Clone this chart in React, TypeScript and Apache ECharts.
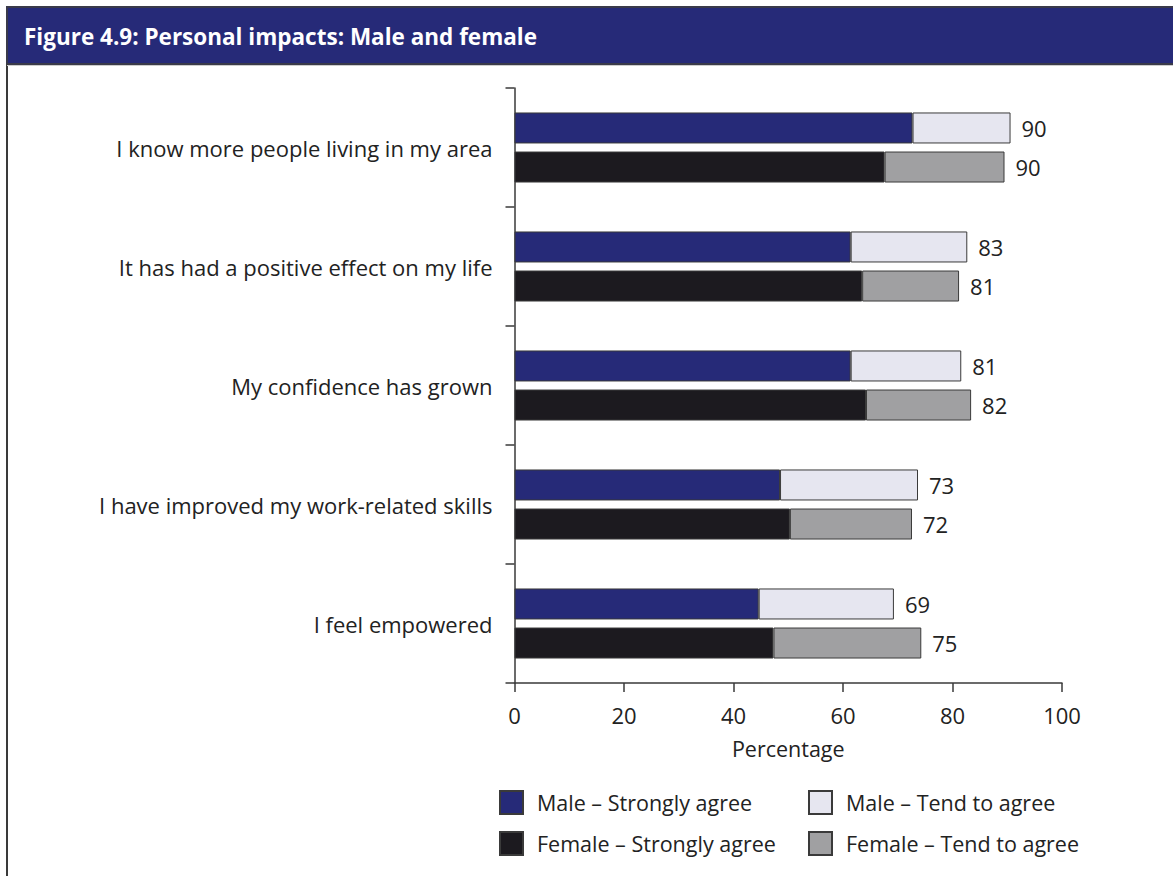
import React, { useEffect, useRef } from "react";
import * as echarts from "echarts";

const categories = [
  "I know more people living in my area",
  "It has had a positive effect on my life",
  "My confidence has grown",
  "I have improved my work-related skills",
  "I feel empowered",
];
const maleStrongly = [72.7, 61.4, 61.4, 48.5, 44.6];
const maleTend = [17.9, 21.3, 20.2, 25.2, 24.7];
const femaleStrongly = [67.6, 63.5, 64.2, 50.3, 47.3];
const femaleTend = [21.9, 17.7, 19.2, 22.3, 27.0];
const maleTotals = [90, 83, 81, 73, 69];
const femaleTotals = [90, 81, 82, 72, 75];
const xTicks = [0, 20, 40, 60, 80, 100];

const seriesNames = [
  "Male – Strongly agree",
  "Male – Tend to agree",
  "Female – Strongly agree",
  "Female – Tend to agree",
];

const FONT = "'Open Sans', 'Noto Sans', sans-serif";
const TEXT = "#222222";

export default function App() {
  const ref = useRef<HTMLDivElement>(null);
  useEffect(() => {
    if (!ref.current) return;
    const chart = echarts.init(ref.current, undefined, { renderer: "svg" });
    const border = { borderColor: "#3a3a3a", borderWidth: 1 };
    const mk = (
      name: string,
      data: number[],
      stack: string,
      color: string,
      totals?: number[]
    ) => ({
      name,
      type: "bar",
      stack,
      data,
      barWidth: 31,
      barGap: "26%",
      itemStyle: { color, ...border },
      label: totals
        ? {
            show: true,
            position: "right",
            distance: 11,
            formatter: (p: any) => String(totals[p.dataIndex]),
            color: TEXT,
            fontSize: 22,
            fontFamily: FONT,
          }
        : { show: false },
    });
    const legendBase = {
      top: 790,
      orient: "vertical",
      itemWidth: 23,
      itemHeight: 23,
      itemGap: 16,
      icon: "rect",
      textStyle: { color: TEXT, fontSize: 21.5, fontFamily: FONT, padding: [0, 0, 0, 9] },
      selectedMode: false,
      padding: 0,
    };
    chart.setOption({
      animation: false,
      backgroundColor: "#ffffff",
      textStyle: { fontFamily: FONT },
      graphic: [
        {
          type: "rect",
          shape: { x: 7, y: 7, width: 1180, height: 57 },
          style: { fill: "#262a78", stroke: "#3a3a4a", lineWidth: 2 },
          z: 10,
        },
        {
          type: "line",
          shape: { x1: 7, y1: 64, x2: 7, y2: 880 },
          style: { stroke: "#3a3a3a", lineWidth: 2 },
          z: 10,
        },
        {
          type: "line",
          shape: { x1: 7, y1: 65.5, x2: 1173, y2: 65.5 },
          style: { stroke: "#cccccc", lineWidth: 1 },
          z: 10,
        },
        {
          type: "text",
          x: 24,
          y: 36,
          style: {
            text: "Figure 4.9: Personal impacts: Male and female",
            fill: "#ffffff",
            fontSize: 22.5,
            fontWeight: "bold",
            fontFamily: FONT,
            verticalAlign: "middle",
          },
          z: 11,
        },
      ],
      grid: { left: 514.5, right: 111, top: 88, bottom: 193, containLabel: false },
      xAxis: {
        type: "value",
        min: 0,
        max: 100,
        interval: 20,
        name: "Percentage",
        nameLocation: "middle",
        nameGap: 54,
        nameTextStyle: { color: TEXT, fontSize: 21.5, fontFamily: FONT },
        axisLine: { show: true, lineStyle: { color: "#3a3a3a", width: 1.5 } },
        axisTick: { show: true, length: 9, lineStyle: { color: "#3a3a3a", width: 1.5 } },
        axisLabel: {
          color: TEXT,
          fontSize: 22,
          fontFamily: FONT,
          margin: 21,
          formatter: (v: number) => (xTicks.includes(v) ? String(v) : ""),
        },
        splitLine: { show: false },
      },
      yAxis: {
        type: "category",
        inverse: true,
        data: categories,
        axisLine: { show: true, lineStyle: { color: "#3a3a3a", width: 1.5 } },
        axisTick: { show: true, length: 9, lineStyle: { color: "#3a3a3a", width: 1.5 } },
        axisLabel: { color: TEXT, fontSize: 22, fontFamily: FONT, margin: 22 },
      },
      legend: [
        { ...legendBase, left: 499, data: [seriesNames[0], seriesNames[2]] },
        { ...legendBase, left: 808, data: [seriesNames[1], seriesNames[3]] },
      ],
      series: [
        mk(seriesNames[0], maleStrongly, "male", "#262a78"),
        mk(seriesNames[1], maleTend, "male", "#e6e6f0", maleTotals),
        mk(seriesNames[2], femaleStrongly, "female", "#1c1a1f"),
        mk(seriesNames[3], femaleTend, "female", "#a0a0a2", femaleTotals),
      ],
    });
    return () => chart.dispose();
  }, []);
  return (
    <div
      ref={ref}
      style={{ position: "absolute", left: 0, top: 0, width: 1173, height: 876 }}
    />
  );
}
